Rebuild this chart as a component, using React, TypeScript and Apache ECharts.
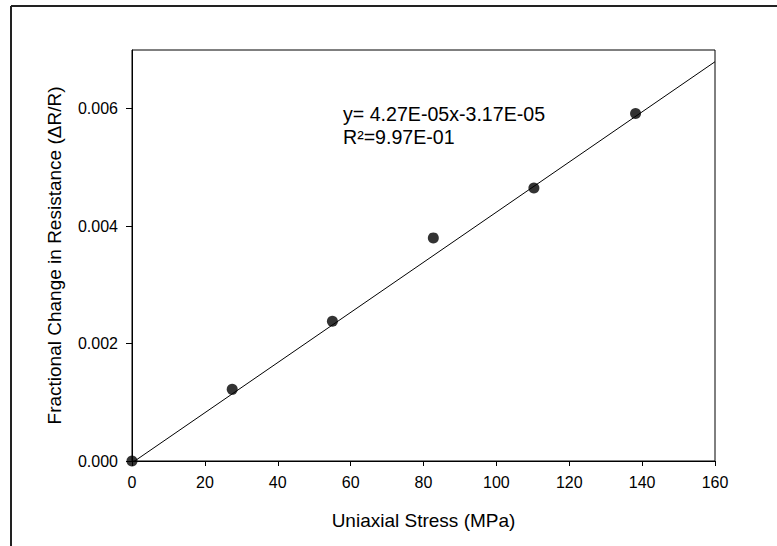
import React, { useEffect, useRef } from "react";
import * as echarts from "echarts";

const stressMPa = [0, 27.5, 55, 82.7, 110.3, 138.2];
const deltaRoverR = [0.0, 0.00122, 0.00238, 0.0038, 0.00465, 0.00592];
const fitX = [0, 160];
const fitY = [-0.0000317, 0.0068003];
const xTicks = [0, 20, 40, 60, 80, 100, 120, 140, 160];
const yTicks = [0, 0.002, 0.004, 0.006];
const equationText = "y= 4.27E-05x-3.17E-05";
const r2Text = "R²=9.97E-01";
const xTitle = "Uniaxial Stress (MPa)";
const yTitle = "Fractional Change in Resistance (ΔR/R)";

export default function App() {
  const ref = useRef<HTMLDivElement>(null);
  useEffect(() => {
    document.body.style.margin = "0";
    const chart = echarts.init(ref.current!, null, { renderer: "svg" });
    const font = "'Liberation Sans', Arial, sans-serif";
    chart.setOption({
      animation: false,
      backgroundColor: "#ffffff",
      textStyle: { fontFamily: font },
      grid: {
        left: 132,
        top: 50,
        right: 62,
        bottom: 85,
        show: true,
        borderColor: "#000",
        borderWidth: 1,
        containLabel: false,
      },
      xAxis: {
        type: "value",
        min: 0,
        max: 160,
        interval: 20,
        name: xTitle,
        nameLocation: "middle",
        nameGap: 50,
        nameTextStyle: { fontSize: 19, color: "#000", fontFamily: font },
        axisLine: { show: true, onZero: false, lineStyle: { color: "#000", width: 1 } },
        axisTick: { show: true, inside: false, length: 5, lineStyle: { color: "#000" }, customValues: xTicks },
        axisLabel: { fontSize: 16, color: "#000", margin: 13, fontFamily: font, customValues: xTicks },
        splitLine: { show: false },
      },
      yAxis: {
        type: "value",
        min: 0,
        max: 0.007,
        interval: 0.001,
        name: yTitle,
        nameLocation: "middle",
        nameGap: 68,
        nameRotate: 90,
        nameTextStyle: { fontSize: 19, color: "#000", fontFamily: font },
        axisLine: { show: true, onZero: false, lineStyle: { color: "#000", width: 1 } },
        axisTick: { show: true, inside: false, length: 6, lineStyle: { color: "#000" }, customValues: yTicks },
        axisLabel: {
          fontSize: 16,
          color: "#000",
          margin: 14,
          fontFamily: font,
          customValues: yTicks,
          formatter: (v: number) => v.toFixed(3),
        },
        splitLine: { show: false },
      },
      series: [
        {
          type: "line",
          data: fitX.map((x, i) => [x, fitY[i]]),
          showSymbol: false,
          symbol: "none",
          lineStyle: { color: "#000", width: 1 },
          clip: true,
          z: 2,
        },
        {
          type: "scatter",
          data: stressMPa.map((x, i) => [x, deltaRoverR[i]]),
          symbol: "circle",
          symbolSize: 11,
          itemStyle: { color: "#000" },
          clip: false,
          z: 3,
        },
      ],
      graphic: [
        {
          type: "line",
          shape: { x1: 11, y1: 6, x2: 777, y2: 6 },
          style: { stroke: "#222", lineWidth: 2 },
        },
        {
          type: "line",
          shape: { x1: 11, y1: 6, x2: 11, y2: 546 },
          style: { stroke: "#222", lineWidth: 2 },
        },
        {
          type: "text",
          left: 343,
          top: 104,
          style: { text: equationText, fontSize: 19.6, fill: "#000", fontFamily: font },
        },
        {
          type: "text",
          left: 343,
          top: 127,
          style: { text: r2Text, fontSize: 19.6, fill: "#000", fontFamily: font },
        },
      ],
    });
    return () => chart.dispose();
  }, []);
  return <div ref={ref} style={{ width: 777, height: 546 }} />;
}
